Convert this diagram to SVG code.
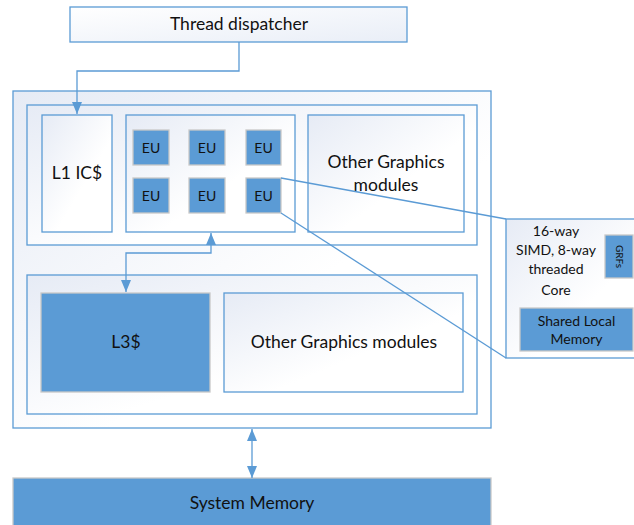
<svg xmlns="http://www.w3.org/2000/svg" width="634" height="525" viewBox="0 0 634 525">
<defs>
<linearGradient id="g" x1="0" y1="0" x2="1" y2="1">
<stop offset="0" stop-color="#e6ebf5"/>
<stop offset="0.6" stop-color="#ffffff"/>
<stop offset="1" stop-color="#ffffff"/>
</linearGradient>
<linearGradient id="g2" x1="0" y1="0" x2="1" y2="1">
<stop offset="0" stop-color="#ffffff"/>
<stop offset="1" stop-color="#e9eef7"/>
</linearGradient>
<marker id="ah" viewBox="0 0 12 10" refX="12" refY="5" markerWidth="12" markerHeight="10" markerUnits="userSpaceOnUse" orient="auto-start-reverse">
<path d="M0,0 L12,5 L0,10 z" fill="#5b9bd5"/>
</marker>
</defs>
<style>
.box{fill:url(#g);stroke:#5b9bd5;stroke-width:1.3}
.blue{fill:#5b9bd5;stroke:#c8c8c8;stroke-width:1.3}
.t{font-family:Lato,"Liberation Sans",sans-serif;fill:#111;text-anchor:middle}
.c{fill:none;stroke:#5b9bd5;stroke-width:1.3}
</style>
<rect width="634" height="525" fill="#ffffff"/>
<g id="dispatcher">
<rect class="box" x="70" y="7" width="337" height="35" style="fill:url(#g2)"/>
<text class="t" x="239" y="30" font-size="17.5">Thread dispatcher</text>
</g>
<g id="gpu">
<rect class="box" x="13" y="91" width="478" height="337"/>
</g>
<g id="top-slice">
<rect class="box" x="27" y="105" width="450" height="140"/>
</g>
<g id="l1">
<rect class="box" x="42" y="115" width="70" height="117"/>
<text class="t" x="77" y="179" font-size="17.5">L1 IC$</text>
</g>
<g id="eu-group">
<rect class="box" x="126" y="115" width="169" height="117"/>
</g>
<g id="eu1"><rect class="blue" x="133" y="130" width="36" height="35"/><text class="t" x="151" y="153" font-size="14">EU</text></g>
<g id="eu2"><rect class="blue" x="189" y="130" width="36" height="35"/><text class="t" x="207" y="153" font-size="14">EU</text></g>
<g id="eu3"><rect class="blue" x="246" y="130" width="35" height="35"/><text class="t" x="263.5" y="153" font-size="14">EU</text></g>
<g id="eu4"><rect class="blue" x="133" y="178" width="36" height="35"/><text class="t" x="151" y="201" font-size="14">EU</text></g>
<g id="eu5"><rect class="blue" x="189" y="178" width="36" height="35"/><text class="t" x="207" y="201" font-size="14">EU</text></g>
<g id="eu6"><rect class="blue" x="246" y="178" width="35" height="35"/><text class="t" x="263.5" y="201" font-size="14">EU</text></g>
<g id="other-top">
<rect class="box" x="308" y="115" width="156" height="117"/>
<text class="t" x="386" y="168" font-size="17.5">Other Graphics</text>
<text class="t" x="386" y="191" font-size="17.5">modules</text>
</g>
<g id="bottom-slice">
<rect class="box" x="27" y="275" width="450" height="139"/>
</g>
<g id="l3">
<rect class="blue" x="41" y="293" width="169" height="99"/>
<text class="t" x="126" y="348" font-size="17.5">L3$</text>
</g>
<g id="other-bottom">
<rect class="box" x="224" y="293" width="239" height="99"/>
<text class="t" x="344" y="348" font-size="17.5">Other Graphics modules</text>
</g>
<g id="core">
<rect class="box" x="506" y="219" width="140" height="139"/>
<text class="t" x="556" y="236" font-size="14">16-way</text>
<text class="t" x="556" y="255" font-size="14">SIMD, 8-way</text>
<text class="t" x="556" y="274" font-size="14">threaded</text>
<text class="t" x="556" y="295" font-size="14">Core</text>
</g>
<g id="grfs">
<rect class="blue" x="605" y="235" width="28" height="43"/>
<text class="t" x="0" y="0" font-size="10" transform="translate(615.5,256.5) rotate(90)">GRFs</text>
</g>
<g id="slm">
<rect class="blue" x="520" y="308" width="113" height="43"/>
<text class="t" x="576.5" y="326" font-size="14">Shared Local</text>
<text class="t" x="576.5" y="344" font-size="14">Memory</text>
</g>
<g id="sysmem">
<rect class="blue" x="13" y="478" width="478" height="52"/>
<text class="t" x="252" y="509" font-size="17.5">System Memory</text>
</g>
<g id="connectors">
<path class="c" d="M239,42 V71 H77 V114" marker-end="url(#ah)"/>
<path class="c" d="M126,292 V253 H211 V233" marker-start="url(#ah)" marker-end="url(#ah)"/>
<path class="c" d="M252,429 V478" marker-start="url(#ah)" marker-end="url(#ah)"/>
<path class="c" d="M281,178 L506,219"/>
<path class="c" d="M281,213 L506,358"/>
</g>
</svg>
